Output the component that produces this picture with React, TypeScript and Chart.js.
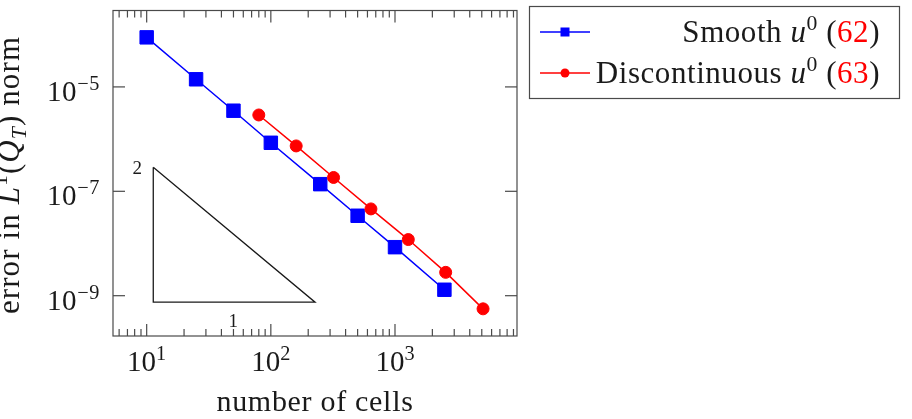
import React, { useEffect, useRef } from 'react';
import { Chart, registerables } from 'chart.js';

Chart.register(...registerables);

// ---------- data ----------
const smoothCells = [10, 25, 50, 100, 250, 500, 1000, 2500];
const smoothError = [8.9e-5, 1.4e-5, 3.5e-6, 8.5e-7, 1.37e-7, 3.4e-8, 8.5e-9, 1.3e-9];
const discCells = [80, 160, 320, 640, 1280, 2560, 5120];
const discError = [2.9e-6, 7.4e-7, 1.84e-7, 4.6e-8, 1.19e-8, 2.8e-9, 5.6e-10];
const triangleCells = [11.3, 11.3, 227, 11.3];
const triangleError = [2.88e-7, 7.5e-10, 7.5e-10, 2.88e-7];
const slopeLabels = ['2', '1'];
const xTickValues = [10, 100, 1000];
const xTickExponents = ['1', '2', '3'];
const yTickValues = [1e-5, 1e-7, 1e-9];
const yTickExponents = ['\u22125', '\u22127', '\u22129'];
const xRange = [5.355, 9609];
const yRange = [1.69e-10, 2.91e-4];
const smoothLabel = 'Smooth ';
const discLabel = 'Discontinuous ';
const smoothRef = '62';
const discRef = '63';
const xTitle = 'number of cells';

// ---------- text helpers ----------
const FONT = '"Liberation Serif", "Times New Roman", serif';
const TEXT = '#1a1a1a';
type Part = { t: string; it?: boolean; c?: string; s?: 'sup' | 'sub' };

function partFont(p: Part, size: number) {
  const sz = p.s ? size * 0.7 : size;
  return `${p.it ? 'italic ' : ''}${sz}px ${FONT}`;
}
function richWidth(ctx: CanvasRenderingContext2D, parts: Part[], size: number) {
  let w = 0;
  for (const p of parts) {
    ctx.font = partFont(p, size);
    w += ctx.measureText(p.t).width;
  }
  return w;
}
function drawRich(
  ctx: CanvasRenderingContext2D,
  parts: Part[],
  x: number,
  y: number,
  size: number,
  align: 'left' | 'center' | 'right',
  spacing = 0
) {
  (ctx as any).letterSpacing = `${spacing}px`;
  const w = richWidth(ctx, parts, size);
  let cx = align === 'left' ? x : align === 'center' ? x - w / 2 : x - w;
  ctx.textAlign = 'left';
  ctx.textBaseline = 'alphabetic';
  for (const p of parts) {
    ctx.font = partFont(p, size);
    ctx.fillStyle = p.c || TEXT;
    const dy = p.s === 'sup' ? -0.38 * size : p.s === 'sub' ? 0.22 * size : 0;
    ctx.fillText(p.t, cx, y + dy);
    cx += ctx.measureText(p.t).width;
  }
  (ctx as any).letterSpacing = '0px';
}

const decorPlugin = {
  id: 'decor',
  afterDraw(chart: any) {
    const ctx: CanvasRenderingContext2D = chart.ctx;
    const a = chart.chartArea;
    const xs = chart.scales.x;
    const ys = chart.scales.y;
    ctx.save();
    // frame
    ctx.strokeStyle = '#4a4a4a';
    ctx.lineWidth = 1.2;
    ctx.strokeRect(a.left, a.top, a.right - a.left, a.bottom - a.top);
    const line = (x1: number, y1: number, x2: number, y2: number) => {
      ctx.beginPath();
      ctx.moveTo(x1, y1);
      ctx.lineTo(x2, y2);
      ctx.stroke();
    };
    // x ticks (major + minor)
    for (let k = 0; k <= 4; k++) {
      for (let m = 1; m <= 9; m++) {
        const v = m * Math.pow(10, k);
        if (v < xs.min || v > xs.max) continue;
        const px = xs.getPixelForValue(v);
        const major = xTickValues.includes(v);
        const len = major ? 12 : 7;
        line(px, a.bottom, px, a.bottom - len);
        line(px, a.top, px, a.top + len);
      }
    }
    // y ticks
    for (const v of yTickValues) {
      const py = ys.getPixelForValue(v);
      line(a.left, py, a.left + 12, py);
      line(a.right, py, a.right - 12, py);
    }
    // tick labels
    xTickValues.forEach((v, i) => {
      const px = xs.getPixelForValue(v);
      drawRich(ctx, [{ t: '10' }, { t: xTickExponents[i], s: 'sup' }], px, a.bottom + 35, 29, 'center');
    });
    yTickValues.forEach((v, i) => {
      const py = ys.getPixelForValue(v);
      drawRich(ctx, [{ t: '10' }, { t: yTickExponents[i], s: 'sup' }], a.left - 13, py + 14, 29, 'right', 0.6);
    });
    // axis titles
    drawRich(ctx, [{ t: xTitle }], (a.left + a.right) / 2, 411, 30, 'center', 0.7);
    ctx.save();
    ctx.translate(19, 175);
    ctx.rotate(-Math.PI / 2);
    drawRich(
      ctx,
      [
        { t: 'error in ' },
        { t: 'L', it: true },
        { t: '1', s: 'sup' },
        { t: '(' },
        { t: 'Q', it: true },
        { t: 'T', it: true, s: 'sub' },
        { t: ')' },
        { t: ' norm' },
      ],
      0,
      0,
      31,
      'center',
      1.1
    );
    ctx.restore();
    // slope triangle labels
    const tx0 = xs.getPixelForValue(triangleCells[0]);
    const ty0 = ys.getPixelForValue(triangleError[0]);
    const tx2 = xs.getPixelForValue(triangleCells[2]);
    const ty1 = ys.getPixelForValue(triangleError[1]);
    drawRich(ctx, [{ t: slopeLabels[0] }], tx0 - 16, ty0 + 7, 19, 'center');
    drawRich(ctx, [{ t: slopeLabels[1] }], (tx0 + tx2) / 2 - 1, ty1 + 25, 19, 'center');

    // legend
    const lx = 529.5, ly = 6.5, lw = 370, lh = 92;
    ctx.fillStyle = '#ffffff';
    ctx.fillRect(lx, ly, lw, lh);
    ctx.strokeStyle = '#4a4a4a';
    ctx.lineWidth = 1.2;
    ctx.strokeRect(lx, ly, lw, lh);
    const rows = [
      { y: 32, color: '#0000ff', shape: 'rect', label: smoothLabel, ref: smoothRef },
      { y: 73, color: '#ff0000', shape: 'circle', label: discLabel, ref: discRef },
    ];
    for (const r of rows) {
      ctx.strokeStyle = r.color;
      ctx.fillStyle = r.color;
      ctx.lineWidth = 1.5;
      line(540, r.y, 590, r.y);
      if (r.shape === 'rect') {
        ctx.fillRect(565 - 4.5, r.y - 4.5, 9, 9);
      } else {
        ctx.beginPath();
        ctx.arc(565, r.y, 4.5, 0, Math.PI * 2);
        ctx.fill();
      }
      drawRich(
        ctx,
        [
          { t: r.label },
          { t: 'u', it: true },
          { t: '0', s: 'sup' },
          { t: ' (' },
          { t: r.ref, c: '#ff0000' },
          { t: ')' },
        ],
        880,
        r.y + 9.5,
        31,
        'right',
        0.55
      );
    }
    ctx.restore();
  },
};

export default function App() {
  const ref = useRef<HTMLCanvasElement>(null);
  useEffect(() => {
    if (!ref.current) return;
    const chart = new Chart(ref.current, {
      type: 'line',
      data: {
        datasets: [
          {
            label: 'Discontinuous u0 (63)',
            data: discCells.map((x, i) => ({ x, y: discError[i] })),
            borderColor: '#ff0000',
            backgroundColor: '#ff0000',
            borderWidth: 1.5,
            pointStyle: 'circle',
            pointRadius: 6,
            pointBorderWidth: 1,
            tension: 0,
            order: 0,
          },
          {
            label: 'Smooth u0 (62)',
            data: smoothCells.map((x, i) => ({ x, y: smoothError[i] })),
            borderColor: '#0000ff',
            backgroundColor: '#0000ff',
            borderWidth: 1.5,
            pointStyle: 'rect',
            pointRadius: 9.5,
            pointBorderWidth: 1,
            tension: 0,
            order: 1,
          },
          {
            label: 'slope',
            data: triangleCells.map((x, i) => ({ x, y: triangleError[i] })),
            borderColor: '#1a1a1a',
            borderWidth: 1.3,
            pointRadius: 0,
            tension: 0,
            order: 2,
          },
        ],
      },
      options: {
        animation: false,
        responsive: true,
        maintainAspectRatio: false,
        layout: { padding: { top: 5, right: 395, left: 0, bottom: 0 } },
        plugins: { legend: { display: false }, tooltip: { enabled: false } },
        scales: {
          x: {
            type: 'logarithmic',
            min: xRange[0],
            max: xRange[1],
            bounds: 'data',
            grid: { display: false },
            border: { display: false },
            ticks: { display: false },
            afterFit: (s: any) => {
              s.height = 83;
            },
          },
          y: {
            type: 'logarithmic',
            min: yRange[0],
            max: yRange[1],
            bounds: 'data',
            grid: { display: false },
            border: { display: false },
            ticks: { display: false },
            afterFit: (s: any) => {
              s.width = 113;
            },
          },
        },
      } as any,
      plugins: [decorPlugin],
    });
    return () => chart.destroy();
  }, []);
  return (
    <div style={{ position: 'absolute', left: 0, top: 0, width: 912, height: 419, background: '#fff' }}>
      <canvas ref={ref} />
    </div>
  );
}
